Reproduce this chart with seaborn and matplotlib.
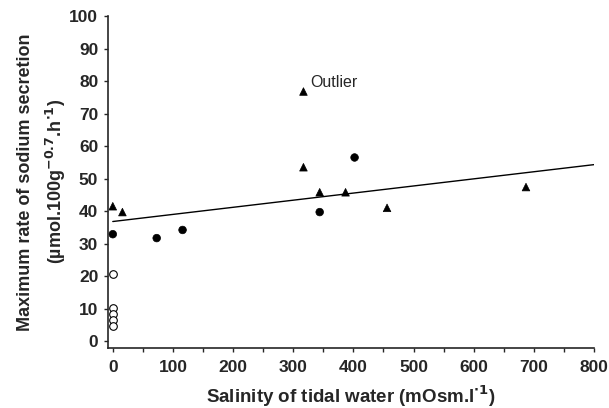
import matplotlib
matplotlib.use("Agg")
import matplotlib.pyplot as plt
import numpy as np
import pandas as pd
import seaborn as sns
from matplotlib.ticker import MultipleLocator

# Values
tri_x = [0, 16, 317, 317, 344, 387, 456, 687]
tri_y = [41.5, 39.7, 76.8, 53.5, 45.8, 45.8, 41.0, 47.4]
dot_x = [0, 73, 116, 344, 402]
dot_y = [32.9, 31.7, 34.2, 39.7, 56.5]
open_x = [0, 0, 0, 0, 0]
open_y = [20.6, 10.2, 8.3, 6.5, 4.7]
fit_x = [0, 800]
fit_y = [36.8, 54.3]

sns.set_style("ticks")
plt.rcParams["font.family"] = ["Liberation Sans", "DejaVu Sans"]
plt.rcParams["font.weight"] = "bold"
plt.rcParams["mathtext.default"] = "bf"

df = pd.concat([
    pd.DataFrame({"x": tri_x, "y": tri_y, "group": "tri"}),
    pd.DataFrame({"x": dot_x, "y": dot_y, "group": "dot"}),
])

fig = plt.figure(figsize=(6.09, 4.08), dpi=100)
ax = fig.add_axes([0.1773, 0.148, 0.798, 0.8125])

sns.lineplot(x=fit_x, y=fit_y, color="black", linewidth=1.0, ax=ax)
sns.scatterplot(data=df, x="x", y="y", style="group",
                markers={"tri": "^", "dot": "o"},
                color="black", s=30, edgecolor="black", linewidth=0.5,
                legend=False, ax=ax)
sns.scatterplot(x=open_x, y=open_y, marker="o", s=30,
                facecolor="white", edgecolor="black", linewidth=0.8, ax=ax)

ax.annotate("Outlier", (tri_x[2], tri_y[2]), xytext=(5, 3),
            textcoords="offset points", fontsize=11.5, fontweight="medium")

ax.set_xlim(-8, 800)
ax.set_ylim(-2, 100)
ax.xaxis.set_major_locator(MultipleLocator(100))
ax.xaxis.set_minor_locator(MultipleLocator(50))
ax.yaxis.set_major_locator(MultipleLocator(10))
ax.tick_params(which="both", direction="out", length=3, width=1,
               labelsize=12.5, pad=4)
ax.tick_params(axis="x", pad=6)
for lab in ax.get_xticklabels() + ax.get_yticklabels():
    lab.set_fontweight("bold")

ax.set_xlabel("Salinity of tidal water (mOsm.l$^{\\cdot1}$)", fontsize=13.5,
              fontweight="bold", labelpad=6)
ax.set_ylabel("Maximum rate of sodium secretion\n(µmol.100g$^{-0.7}$.h$^{\\cdot1}$)",
              fontsize=13, fontweight="bold", labelpad=1, linespacing=1.55)
sns.despine(ax=ax)
for sp in ax.spines.values():
    sp.set_linewidth(1.2)

fig.savefig("out.png", dpi=100)
